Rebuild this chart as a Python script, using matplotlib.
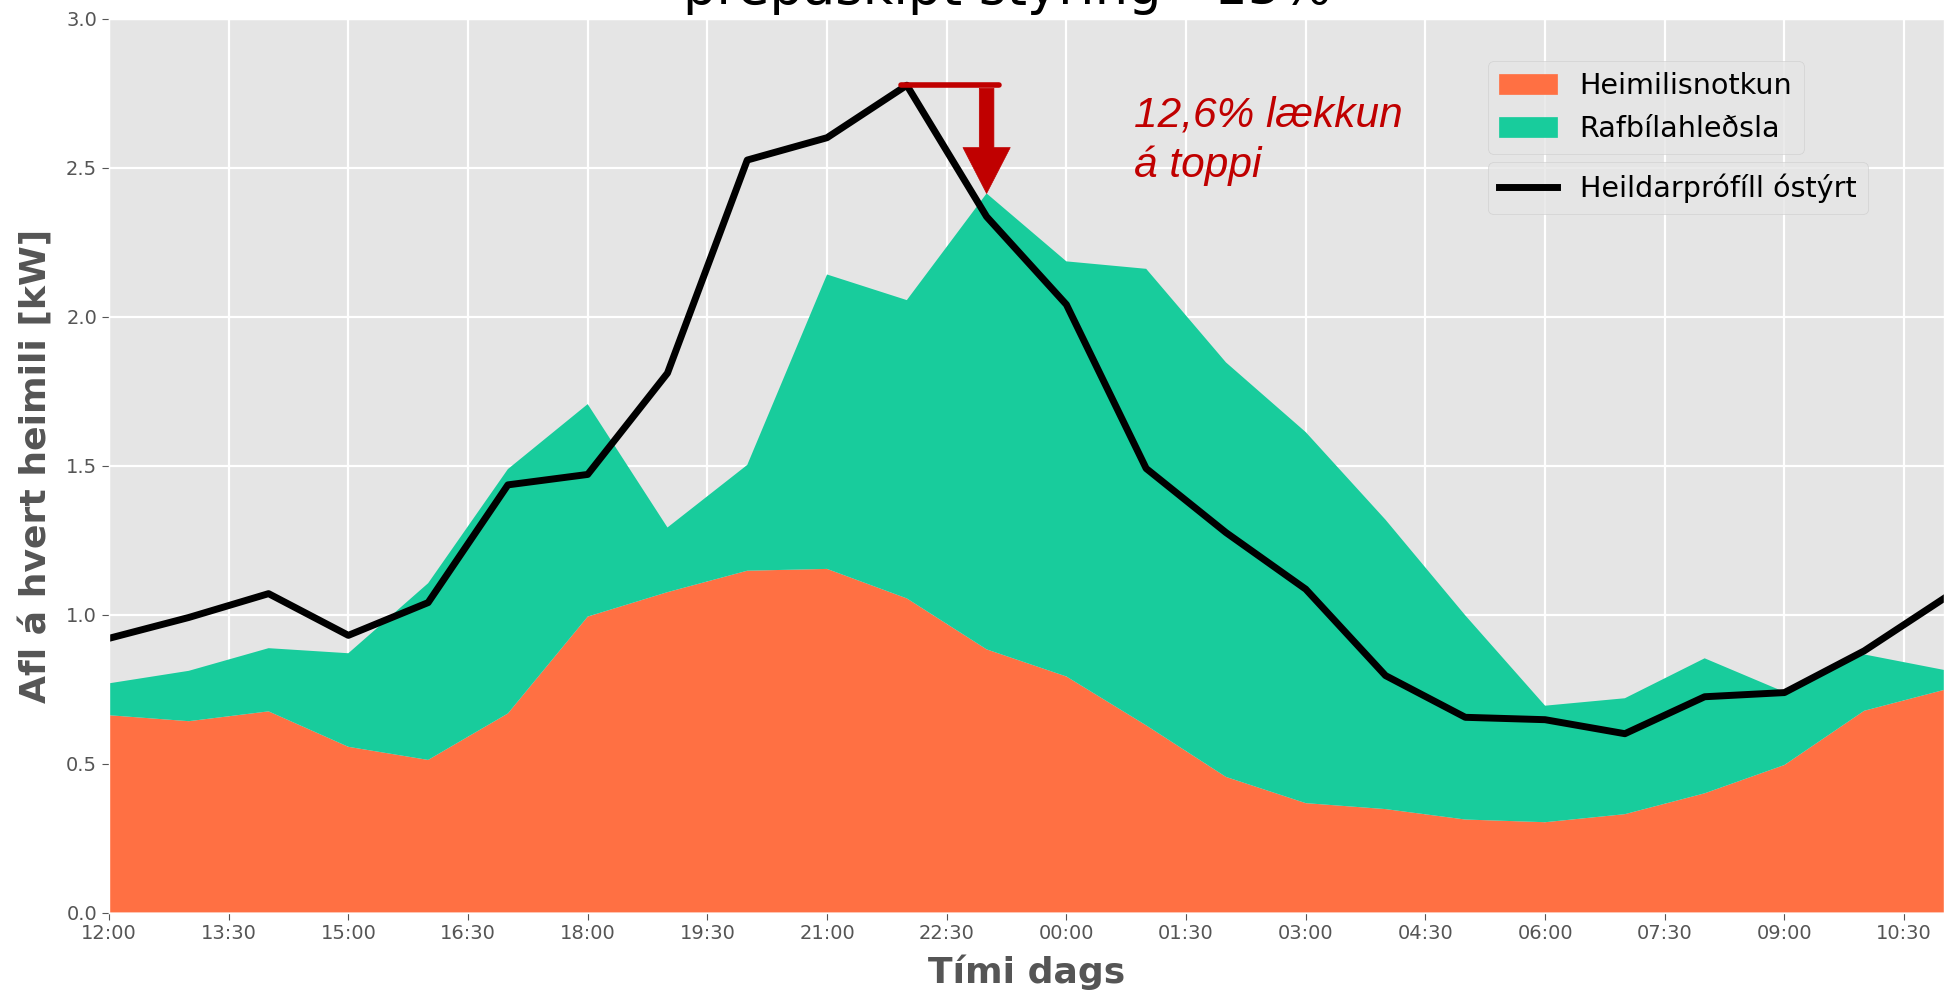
import numpy as np
import matplotlib
matplotlib.use("Agg")
import matplotlib.pyplot as plt
from matplotlib.patches import Patch
from matplotlib.lines import Line2D

plt.style.use("ggplot")

# hourly values, 12:00 -> 11:00 next day
hours = np.arange(24)
heimili = [0.662, 0.642, 0.675, 0.556, 0.512, 0.668, 0.993, 1.075, 1.147, 1.153,
           1.054, 0.883, 0.792, 0.628, 0.455, 0.367, 0.347, 0.312, 0.303, 0.330,
           0.400, 0.495, 0.677, 0.747]
heild_styrt = [0.769, 0.811, 0.887, 0.870, 1.105, 1.488, 1.706, 1.292, 1.502, 2.141,
               2.055, 2.413, 2.185, 2.160, 1.846, 1.612, 1.318, 0.997, 0.694, 0.719,
               0.853, 0.740, 0.866, 0.814]
heild_ostyrt = [0.920, 0.990, 1.070, 0.930, 1.040, 1.435, 1.470, 1.810, 2.525, 2.600,
                2.776, 2.335, 2.040, 1.490, 1.275, 1.085, 0.795, 0.655, 0.647, 0.600,
                0.724, 0.738, 0.878, 1.054]
rafbilar = np.array(heild_styrt) - np.array(heimili)

tick_pos = np.arange(0, 23, 1.5)
tick_labels = ["12:00", "13:30", "15:00", "16:30", "18:00", "19:30", "21:00", "22:30",
               "00:00", "01:30", "03:00", "04:30", "06:00", "07:30", "09:00", "10:30"]

c_heimili = "#FF7043"
c_rafbill = "#18CC9C"
c_red = "#C00000"

fig = plt.figure(figsize=(19.44, 9.91), dpi=100)
ax = fig.add_axes([109 / 1944, 78.5 / 991, 1835 / 1944, 894 / 991])

ax.stackplot(hours, heimili, rafbilar, colors=[c_heimili, c_rafbill])
ax.plot(hours, heild_ostyrt, color="black", lw=5)

ax.set_xlim(0, 23)
ax.set_ylim(0, 3)
ax.set_xticks(tick_pos)
ax.set_xticklabels(tick_labels)
ax.set_yticks(np.arange(0, 3.01, 0.5))
ax.tick_params(labelsize=14, colors="#555555", length=5)
ax.grid(color="white", lw=1.6)

ax.set_xlabel("Tími dags", fontsize=26, fontweight="bold", color="#555555", labelpad=8)
ax.set_ylabel("Afl á hvert heimili [kW]", fontsize=26, fontweight="bold", color="#555555", labelpad=10)

# title sits partly above the visible area
fig.text(0.5 + 109 / 1944 / 2 - 0.01, 1 - 15 / 991, "þrepaskipt stýring - 15%",
         fontsize=38, ha="center", va="bottom")

# peak reduction marker
i_peak = int(np.argmax(heild_ostyrt))
i_new = int(np.argmax(heild_styrt))
ax.plot([hours[i_peak] - 0.07, hours[i_new] + 0.15], [heild_ostyrt[i_peak]] * 2,
        color=c_red, lw=4, solid_capstyle="round")
ax.annotate("", xy=(hours[i_new], heild_styrt[i_new]), xytext=(hours[i_new], heild_ostyrt[i_peak] - 0.01),
            arrowprops=dict(facecolor=c_red, edgecolor=c_red, width=10.5, headwidth=34,
                            headlength=33, shrink=0))
ax.text(12.85, 2.74, "12,6% lækkun\ná toppi", color=c_red, fontsize=30.5, style="italic",
        family="Liberation Sans", ha="left", va="top", linespacing=1.3)

leg1 = ax.legend(handles=[Patch(color=c_heimili, label="Heimilisnotkun"),
                          Patch(color=c_rafbill, label="Rafbílahleðsla")],
                 loc="upper left", bbox_to_anchor=(0.7515, 0.9526), borderaxespad=0,
                 fontsize=20.6)
ax.add_artist(leg1)
ax.legend(handles=[Line2D([], [], color="black", lw=5, label="Heildarprófíll óstýrt")],
          loc="upper left", bbox_to_anchor=(0.7515, 0.8396), borderaxespad=0, fontsize=20.6)

fig.savefig("out.png", dpi=100)
